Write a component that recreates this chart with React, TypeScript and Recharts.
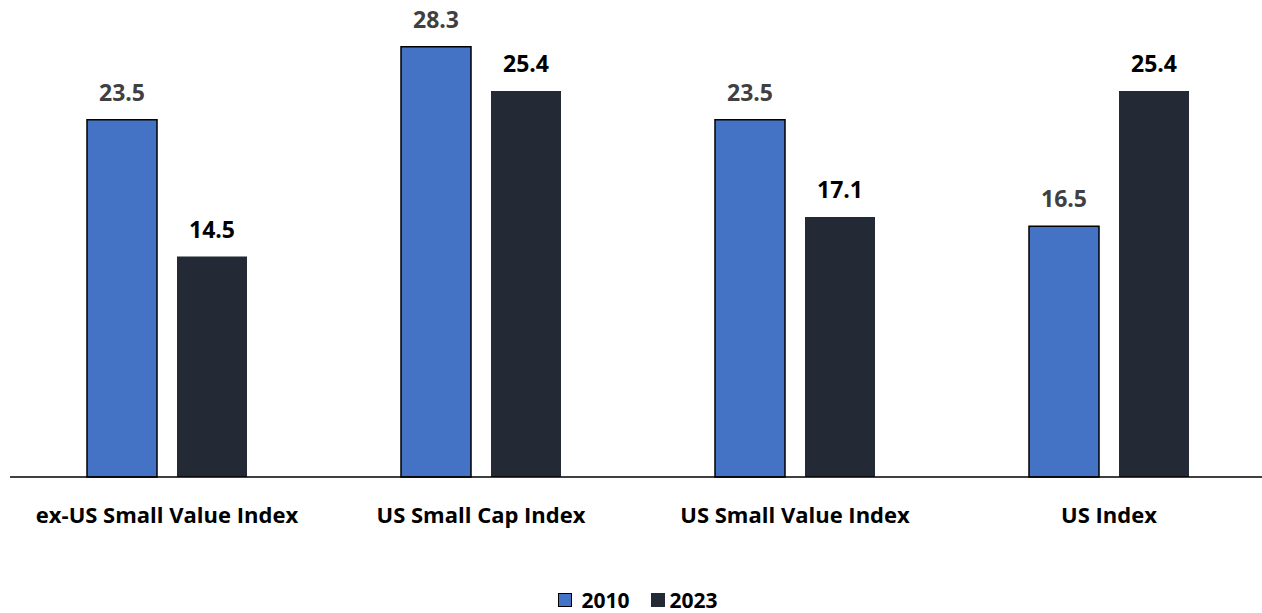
import React from "react";
import { BarChart, Bar, XAxis, YAxis, LabelList, Legend } from "recharts";

const categories = ["ex-US Small Value Index", "US Small Cap Index", "US Small Value Index", "US Index"];
const series2010 = [23.5, 28.3, 23.5, 16.5];
const series2023 = [14.5, 25.4, 17.1, 25.4];
const seriesNames = ["2010", "2023"];

const data = categories.map((c, i) => ({ name: c, s2010: series2010[i], s2023: series2023[i] }));

const FONT = "'Open Sans', Lato, sans-serif";
const BLUE = "#4472C4";
const DARK = "#232A35";

const LegendContent = () => (
  <div style={{ height: 26, display: "flex", justifyContent: "center", alignItems: "center", fontFamily: FONT, fontWeight: 700, fontSize: 21, color: "#000", lineHeight: "26px" }}>
    <span style={{ display: "inline-block", width: 14, height: 14, background: BLUE, border: "1.5px solid #000", boxSizing: "border-box", marginRight: 9 }} />
    <span style={{ marginRight: 21 }}>{seriesNames[0]}</span>
    <span style={{ display: "inline-block", width: 14, height: 14, background: DARK, marginRight: 5 }} />
    <span>{seriesNames[1]}</span>
  </div>
);

export default function App() {
  return (
    <div style={{ position: "absolute", left: 0, top: 0, width: 1262, height: 613, overflow: "hidden", background: "#fff" }}>
      <BarChart
        width={1266}
        height={613}
        data={data}
        margin={{ top: 21, right: 0, left: 10, bottom: 80 }}
        barCategoryGap={77}
        barGap={20}
      >
        <XAxis
          dataKey="name"
          tickLine={false}
          axisLine={{ stroke: "#000", strokeWidth: 1.5 }}
          tick={{ fontFamily: FONT, fontWeight: 700, fontSize: 22, fill: "#000" }}
          tickMargin={24}
          interval={0}
        />
        <YAxis hide domain={[0, 30]} />
        <Legend verticalAlign="bottom" content={<LegendContent />} wrapperStyle={{ bottom: 0, height: 26 }} />
        <Bar dataKey="s2010" name={seriesNames[0]} fill={BLUE} stroke="#000" strokeWidth={1.5} barSize={70} isAnimationActive={false}>
          <LabelList dataKey="s2010" position="top" offset={19} style={{ fontFamily: FONT, fontWeight: 700, fontSize: 23, fill: "#404040" }} formatter={(v: number) => v.toFixed(1)} />
        </Bar>
        <Bar dataKey="s2023" name={seriesNames[1]} fill={DARK} barSize={70} isAnimationActive={false}>
          <LabelList dataKey="s2023" position="top" offset={19} style={{ fontFamily: FONT, fontWeight: 700, fontSize: 23, fill: "#000" }} formatter={(v: number) => v.toFixed(1)} />
        </Bar>
      </BarChart>
    </div>
  );
}
